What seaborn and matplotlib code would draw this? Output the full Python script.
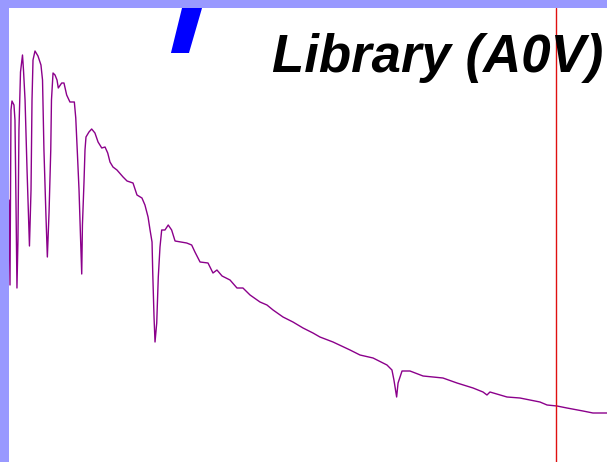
import numpy as np
import pandas as pd
import matplotlib
matplotlib.use("Agg")
import matplotlib.pyplot as plt
import seaborn as sns

# A0V library spectrum, wavelength (Angstrom) vs relative flux
wavelength = [
    3833, 3840, 3847, 3854, 3868, 3875, 3882, 3889, 3896, 3903,
    3914, 3928, 3935, 3946, 3960, 3977, 3988, 3995, 4002, 4016,
    4037, 4058, 4069, 4079, 4093, 4103, 4115, 4127, 4132, 4143,
    4157, 4171, 4180, 4204, 4220, 4239, 4262, 4293, 4303, 4315,
    4326, 4336, 4345, 4350, 4361, 4368, 4375, 4396, 4415, 4438,
    4460, 4486, 4509, 4528, 4544, 4565, 4593, 4636, 4664, 4706,
    4734, 4769, 4790, 4812, 4826, 4840, 4845, 4854, 4861, 4873,
    4884, 4896, 4908, 4931, 4954, 4978, 5002, 5084, 5119, 5142,
    5178, 5234, 5269, 5297, 5333, 5389, 5438, 5480, 5530, 5600,
    5649, 5692, 5762, 5832, 5903, 5973, 6022, 6114, 6234, 6304,
    6396, 6494, 6529, 6543, 6562, 6572, 6600, 6656, 6748, 6888,
    6987, 7100, 7170, 7198, 7219, 7339, 7430, 7571, 7621, 7691,
    7761, 7874, 7944, 8043,
]
flux = [
    2.62, 1.77, 3.52, 3.61, 3.57, 3.42, 2.62, 1.74, 2.22, 3.32,
    3.90, 4.07, 3.92, 3.62, 2.92, 2.16, 2.72, 3.62, 4.02, 4.11,
    4.06, 3.97, 3.82, 3.12, 2.47, 2.05, 2.50, 3.12, 3.62, 3.89,
    3.87, 3.82, 3.74, 3.79, 3.79, 3.67, 3.60, 3.60, 3.44, 3.07,
    2.72, 2.27, 1.88, 2.37, 2.80, 3.12, 3.25, 3.30, 3.33, 3.29,
    3.20, 3.14, 3.15, 3.09, 3.00, 2.95, 2.92, 2.85, 2.81, 2.79,
    2.67, 2.64, 2.57, 2.45, 2.32, 2.20, 1.89, 1.45, 1.20, 1.39,
    1.85, 2.15, 2.32, 2.32, 2.37, 2.32, 2.21, 2.19, 2.17, 2.10,
    2.00, 1.99, 1.89, 1.92, 1.86, 1.82, 1.74, 1.74, 1.67, 1.60,
    1.57, 1.52, 1.45, 1.40, 1.34, 1.29, 1.25, 1.20, 1.12, 1.07,
    1.04, 0.97, 0.92, 0.82, 0.65, 0.79, 0.91, 0.91, 0.86, 0.84,
    0.79, 0.74, 0.70, 0.67, 0.70, 0.65, 0.64, 0.60, 0.57, 0.56,
    0.54, 0.51, 0.49, 0.49,
]

cursor_wavelength = 7687          # red vertical marker
blue_marker_lam = [4973, 5100, 5192, 5051]
blue_marker_flux = [4.09, 4.09, 4.54, 4.54]
title = "Library (A0V)"

df = pd.DataFrame({"wavelength": wavelength, "flux": flux})

sns.set_style("white")

fig = plt.figure(figsize=(6.07, 4.62), dpi=100, facecolor="#9999ff")
ax = fig.add_axes([9 / 607, 0, 598 / 607, 454 / 462])
ax.set_facecolor("white")

sns.lineplot(data=df, x="wavelength", y="flux", ax=ax, color="#8b008b",
             linewidth=1.0, estimator=None, sort=False)

ax.axvline(cursor_wavelength, color="#e01010", linewidth=1.0)
ax.fill(blue_marker_lam, blue_marker_flux, color="#0000ff", linewidth=0)

ax.set_xlim(3833, 8043)
ax.set_ylim(0, 4.54)
ax.set_xlabel("")
ax.set_ylabel("")
ax.set_xticks([])
ax.set_yticks([])
for s in ax.spines.values():
    s.set_visible(False)

fig.text(603 / 607, 1 - 72 / 462, title, ha="right", va="baseline",
         fontsize=38, fontweight="bold", fontstyle="italic",
         family=["Liberation Sans", "DejaVu Sans"], color="black", zorder=10)

fig.savefig("out.png", dpi=100, facecolor=fig.get_facecolor())
